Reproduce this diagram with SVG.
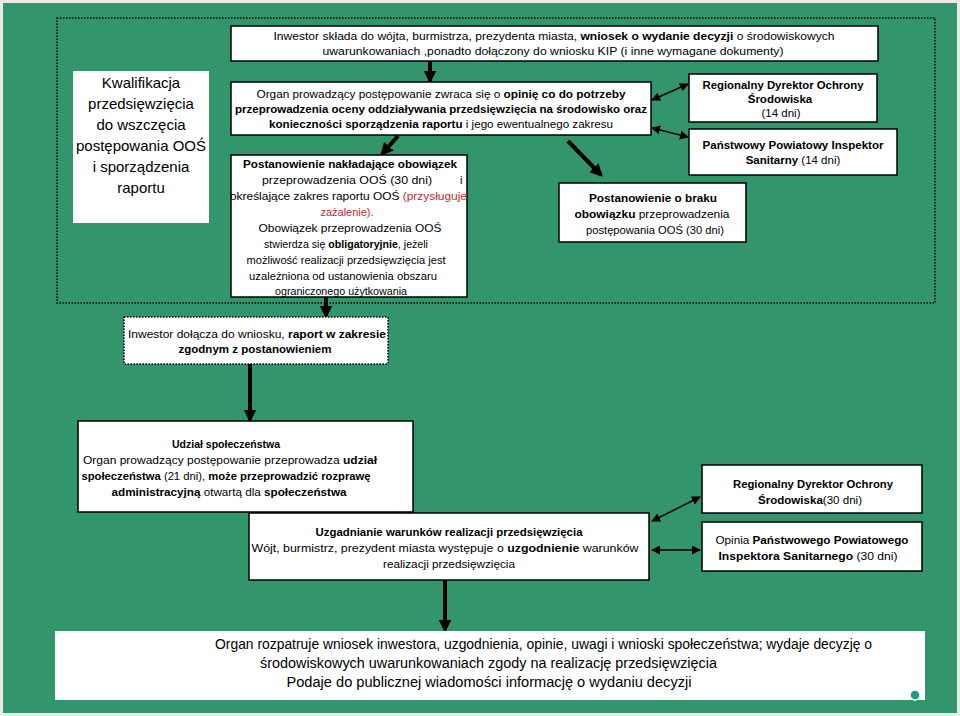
<svg xmlns="http://www.w3.org/2000/svg" width="960" height="716" viewBox="0 0 960 716">
<defs>
<style>
text{font-family:"Liberation Sans",Arial,sans-serif;fill:#000;}
.m{font-size:11.5px;}
.n{font-size:11px;}
.big{font-size:15px;}
.fin{font-size:14px;}
.b{font-weight:bold;}
.r{fill:#c62b2b;}
.box{fill:#fff;stroke:#000;stroke-width:1.5;}
.wbox{fill:#fff;stroke:none;}
.thick{stroke:#000;stroke-width:4;fill:none;}
.thin{stroke:#000;stroke-width:1.5;fill:none;}
</style>
<marker id="ah" viewBox="0 0 10 10" refX="8" refY="5" markerWidth="13" markerHeight="13" markerUnits="userSpaceOnUse" orient="auto"><path d="M0,0 L10,5 L0,10 z" fill="#000"/></marker>
<marker id="as" viewBox="0 0 10 10" refX="9" refY="5" markerWidth="9" markerHeight="9" markerUnits="userSpaceOnUse" orient="auto-start-reverse"><path d="M0,0 L10,5 L0,10 z" fill="#000"/></marker>
</defs>
<rect x="0" y="0" width="960" height="716" fill="#e8ece9"/>
<rect x="3" y="3" width="954" height="710" fill="#33956c"/>
<rect x="57" y="18" width="878" height="285" fill="none" stroke="#000" stroke-width="1.5" stroke-dasharray="1.5,1.5"/>

<g id="connectors">
<line class="thick" x1="430" y1="61" x2="430" y2="81" marker-end="url(#ah)" stroke-width="3"/>
<line class="thin" x1="652" y1="100" x2="688" y2="84" marker-start="url(#as)" marker-end="url(#as)"/>
<line class="thin" x1="652" y1="128" x2="688" y2="137" marker-start="url(#as)" marker-end="url(#as)"/>
<line class="thick" x1="398" y1="136" x2="382" y2="154" marker-end="url(#ah)"/>
<line class="thick" x1="568" y1="141" x2="601" y2="175" marker-end="url(#ah)"/>
<line class="thick" x1="326" y1="284" x2="326" y2="316" marker-end="url(#ah)"/>
<line class="thick" x1="250" y1="364" x2="250" y2="420" marker-end="url(#ah)"/>
<line class="thick" x1="445" y1="580" x2="445" y2="630" marker-end="url(#ah)" stroke-width="3"/>
<line class="thin" x1="652" y1="521" x2="700" y2="497" marker-start="url(#as)" marker-end="url(#as)"/>
<line class="thin" x1="652" y1="550" x2="700" y2="550" marker-start="url(#as)" marker-end="url(#as)"/>
</g>

<g id="n-wniosek">
<rect class="box" x="231" y="26" width="647" height="35"/>
<text class="m" x="554" y="40" text-anchor="middle" textLength="561" lengthAdjust="spacingAndGlyphs">Inwestor składa do wójta, burmistrza, prezydenta miasta, <tspan class="b">wniosek o wydanie decyzji</tspan> o środowiskowych</text>
<text class="m" x="553" y="55" text-anchor="middle" textLength="461" lengthAdjust="spacingAndGlyphs">uwarunkowaniach ,ponadto dołączony do wniosku  KIP (i inne wymagane dokumenty)</text>
</g>

<g id="n-kwalifikacja">
<rect class="wbox" x="73" y="71" width="136" height="152"/>
<text class="big" x="141" y="88" text-anchor="middle">Kwalifikacja</text>
<text class="big" x="141" y="109" text-anchor="middle">przedsięwzięcia</text>
<text class="big" x="141" y="130" text-anchor="middle">do wszczęcia</text>
<text class="big" x="141" y="151" text-anchor="middle">postępowania OOŚ</text>
<text class="big" x="141" y="172" text-anchor="middle">i sporządzenia</text>
<text class="big" x="141" y="193" text-anchor="middle">raportu</text>
</g>

<g id="n-organ">
<rect class="box" x="231" y="82" width="420" height="53"/>
<text class="m" x="441" y="98" text-anchor="middle" textLength="369" lengthAdjust="spacingAndGlyphs">Organ prowadzący postępowanie zwraca się o <tspan class="b">opinię co do potrzeby</tspan></text>
<text class="m b" x="441" y="113" text-anchor="middle" textLength="412" lengthAdjust="spacingAndGlyphs">przeprowadzenia oceny oddziaływania przedsięwzięcia na środowisko oraz</text>
<text class="m" x="441" y="128" text-anchor="middle" textLength="344" lengthAdjust="spacingAndGlyphs"><tspan class="b">konieczności sporządzenia raportu</tspan> i jego ewentualnego zakresu</text>
</g>

<g id="n-rdos1">
<rect class="box" x="689" y="74" width="188" height="48"/>
<text class="m b" x="783" y="89" text-anchor="middle" textLength="161" lengthAdjust="spacingAndGlyphs">Regionalny Dyrektor Ochrony</text>
<text class="m b" x="780" y="103" text-anchor="middle">Środowiska</text>
<text class="m" x="781" y="117" text-anchor="middle">(14 dni)</text>
</g>

<g id="n-ppis1">
<rect class="box" x="689" y="129" width="208" height="46"/>
<text class="m b" x="793" y="149" text-anchor="middle" textLength="181" lengthAdjust="spacingAndGlyphs">Państwowy Powiatowy Inspektor</text>
<text class="m" x="793" y="164" text-anchor="middle"><tspan class="b">Sanitarny</tspan> (14 dni)</text>
</g>

<g id="n-obowiazek">
<rect class="box" x="231" y="155" width="236" height="142"/>
<text class="n b" x="350" y="168" text-anchor="middle" textLength="214" lengthAdjust="spacingAndGlyphs">Postanowienie nakładające obowiązek</text>
<text class="n" x="262" y="184" textLength="170" lengthAdjust="spacingAndGlyphs">przeprowadzenia OOŚ (30 dni)</text>
<text class="n" x="460" y="184">i</text>
<text class="n" x="230" y="200" textLength="237" lengthAdjust="spacingAndGlyphs">określające zakres raportu OOŚ <tspan class="r">(przysługuje</tspan></text>
<text class="n r" x="347" y="216" text-anchor="middle">zażalenie).</text>
<text class="n" x="350" y="232" text-anchor="middle" textLength="183" lengthAdjust="spacingAndGlyphs">Obowiązek przeprowadzenia OOŚ</text>
<text class="n" x="346" y="248" text-anchor="middle" textLength="164" lengthAdjust="spacingAndGlyphs">stwierdza się <tspan class="b">obligatoryjnie</tspan>, jeżeli</text>
<text class="n" x="346" y="264" text-anchor="middle" textLength="199" lengthAdjust="spacingAndGlyphs">możliwość realizacji przedsięwzięcia jest</text>
<text class="n" x="343" y="280" text-anchor="middle" textLength="188" lengthAdjust="spacingAndGlyphs">uzależniona od ustanowienia obszaru</text>
<text class="n" x="341" y="295" text-anchor="middle" textLength="132" lengthAdjust="spacingAndGlyphs">ograniczonego użytkowania</text>
</g>

<g id="n-brak">
<rect class="box" x="559" y="183" width="187" height="59"/>
<text class="m b" x="653" y="202" text-anchor="middle" textLength="128" lengthAdjust="spacingAndGlyphs">Postanowienie o braku</text>
<text class="m" x="652" y="218" text-anchor="middle" textLength="155" lengthAdjust="spacingAndGlyphs"><tspan class="b">obowiązku</tspan> przeprowadzenia</text>
<text class="m" x="655" y="234" text-anchor="middle" textLength="138" lengthAdjust="spacingAndGlyphs">postępowania OOŚ (30 dni)</text>
</g>

<g id="n-raport">
<rect x="124" y="317" width="264" height="47" fill="#fff" stroke="#000" stroke-width="1.5" stroke-dasharray="1.5,1.5"/>
<text class="m" x="257" y="338" text-anchor="middle" textLength="258" lengthAdjust="spacingAndGlyphs">Inwestor dołącza do wniosku, <tspan class="b">raport w zakresie</tspan></text>
<text class="m b" x="255" y="353" text-anchor="middle" textLength="153" lengthAdjust="spacingAndGlyphs">zgodnym z postanowieniem</text>
</g>

<g id="n-udzial">
<rect class="box" x="78" y="421" width="335" height="91"/>
<text class="m b" x="226" y="448" text-anchor="middle" textLength="108" lengthAdjust="spacingAndGlyphs">Udział społeczeństwa</text>
<text class="m" x="230" y="464" text-anchor="middle" textLength="294" lengthAdjust="spacingAndGlyphs">Organ prowadzący postępowanie przeprowadza <tspan class="b">udział</tspan></text>
<text class="m" x="226" y="480" text-anchor="middle" textLength="289" lengthAdjust="spacingAndGlyphs"><tspan class="b">społeczeństwa</tspan> (21 dni), <tspan class="b">może przeprowadzić rozprawę</tspan></text>
<text class="m" x="229" y="496" text-anchor="middle" textLength="235" lengthAdjust="spacingAndGlyphs"><tspan class="b">administracyjną</tspan> otwartą dla <tspan class="b">społeczeństwa</tspan></text>
</g>

<g id="n-uzgadnianie">
<rect class="box" x="249" y="513" width="400" height="67"/>
<text class="m b" x="449" y="536" text-anchor="middle" textLength="267" lengthAdjust="spacingAndGlyphs">Uzgadnianie warunków realizacji przedsięwzięcia</text>
<text class="m" x="445" y="552" text-anchor="middle" textLength="387" lengthAdjust="spacingAndGlyphs">Wójt, burmistrz, prezydent miasta występuje o <tspan class="b">uzgodnienie</tspan> warunków</text>
<text class="m" x="449" y="568" text-anchor="middle" textLength="132" lengthAdjust="spacingAndGlyphs">realizacji przedsięwzięcia</text>
</g>

<g id="n-rdos2">
<rect class="box" x="702" y="465" width="220" height="48"/>
<text class="m b" x="813" y="488" text-anchor="middle" textLength="160" lengthAdjust="spacingAndGlyphs">Regionalny Dyrektor Ochrony</text>
<text class="m" x="810" y="504" text-anchor="middle" textLength="104" lengthAdjust="spacingAndGlyphs"><tspan class="b">Środowiska</tspan>(30 dni)</text>
</g>

<g id="n-opinia">
<rect class="box" x="702" y="522" width="220" height="49"/>
<text class="m" x="812" y="544" text-anchor="middle" textLength="193" lengthAdjust="spacingAndGlyphs">Opinia <tspan class="b">Państwowego Powiatowego</tspan></text>
<text class="m" x="808" y="560" text-anchor="middle" textLength="179" lengthAdjust="spacingAndGlyphs"><tspan class="b">Inspektora Sanitarnego</tspan> (30 dni)</text>
</g>

<g id="n-decyzja">
<rect class="wbox" x="55" y="631" width="870" height="69"/>
<text class="fin" x="215" y="649" textLength="657" lengthAdjust="spacingAndGlyphs">Organ rozpatruje wniosek inwestora, uzgodnienia, opinie, uwagi i wnioski społeczeństwa; wydaje decyzję o</text>
<text class="fin" x="260" y="668" textLength="457" lengthAdjust="spacingAndGlyphs">środowiskowych uwarunkowaniach zgody na realizację przedsięwzięcia</text>
<text class="fin" x="489" y="687" text-anchor="middle" textLength="405" lengthAdjust="spacingAndGlyphs">Podaje do publicznej wiadomości informację o wydaniu decyzji</text>
</g>
<circle cx="915" cy="695" r="5" fill="#1a9f7c" stroke="#fff" stroke-width="1.5"/>
</svg>
